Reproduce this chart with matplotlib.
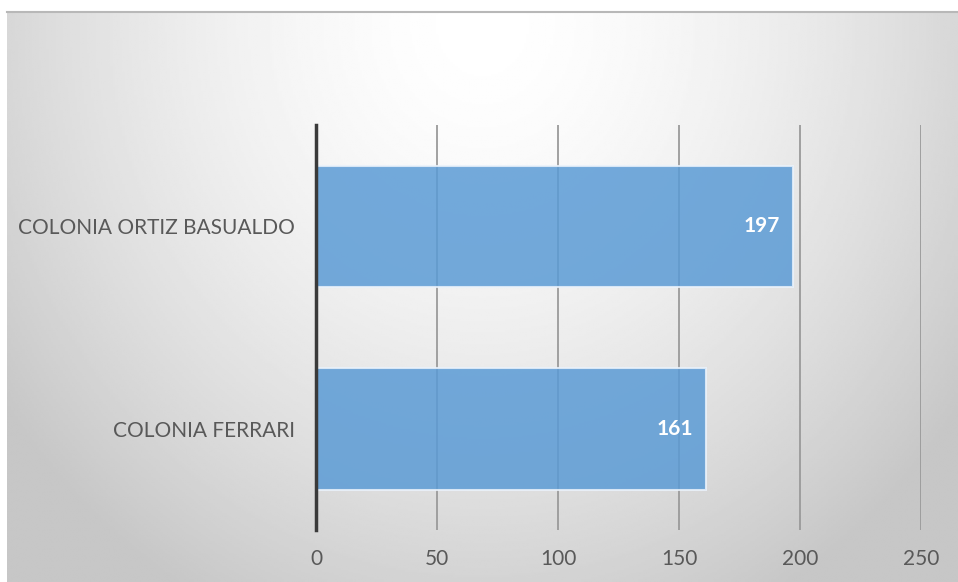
import numpy as np
import matplotlib.pyplot as plt

categories = ['COLONIA FERRARI', 'COLONIA ORTIZ BASUALDO']
values = [161, 197]
xticks = [0, 50, 100, 150, 200, 250]

W, H = 958, 582
fig = plt.figure(figsize=(W / 100, H / 100), dpi=100)
fig.patch.set_facecolor('white')

# chart area background with a soft radial gradient
x0, y0 = 7, 12
bg = fig.add_axes([x0 / W, 0, (W - x0) / W, (H - y0) / H])
gx, gy = np.meshgrid(np.linspace(0, 1, 400), np.linspace(0, 1, 300))
r = np.sqrt(((gx - 0.5) / 0.62) ** 2 + ((gy - 0.02) / 1.15) ** 2)
shade = 1.0 - 0.22 * np.clip(r, 0, 1) ** 1.6
bg.imshow(shade, cmap='gray', vmin=0, vmax=1, aspect='auto',
          extent=[0, 1, 0, 1], origin='upper')
bg.set_axis_off()
fig.add_artist(plt.Line2D([x0 / W, 1], [1 - y0 / H, 1 - y0 / H],
                          color='#b8b8b8', lw=1.5, transform=fig.transFigure))

ax = fig.add_axes([316 / W, 1 - 530 / H, (921 - 316) / W, (530 - 125) / H])
ax.patch.set_alpha(0)

ypos = np.arange(len(categories))
bars = ax.barh(ypos, values, height=0.6, color='#5b9bd5', alpha=0.85,
               edgecolor='#eaf2fb', linewidth=1.5, zorder=3)
for b, v in zip(bars, values):
    ax.annotate(str(v), (v, b.get_y() + b.get_height() / 2),
                xytext=(-9, 0), textcoords='offset points',
                ha='right', va='center', color='white',
                fontsize=15, fontweight='bold', family='Lato', zorder=4)

ax.set_xlim(0, 250)
ax.set_ylim(-0.5, 1.5)
ax.set_xticks(xticks)
ax.set_yticks(ypos)
ax.set_yticklabels(categories, family='Lato', fontsize=15, color='#595959')
ax.set_xticklabels([str(t) for t in xticks], family='Lato', fontsize=15,
                   color='#595959')
ax.tick_params(axis='both', length=0)
ax.tick_params(axis='x', pad=14)
ax.tick_params(axis='y', pad=15)
ax.grid(axis='x', color='#9a9a9a', lw=1.3, zorder=1)
for s in ['top', 'right', 'bottom']:
    ax.spines[s].set_visible(False)
ax.spines['left'].set_color('#3a3a3a')
ax.spines['left'].set_linewidth(2.5)
ax.spines['left'].set_zorder(5)

fig.savefig('out.png', dpi=100)
